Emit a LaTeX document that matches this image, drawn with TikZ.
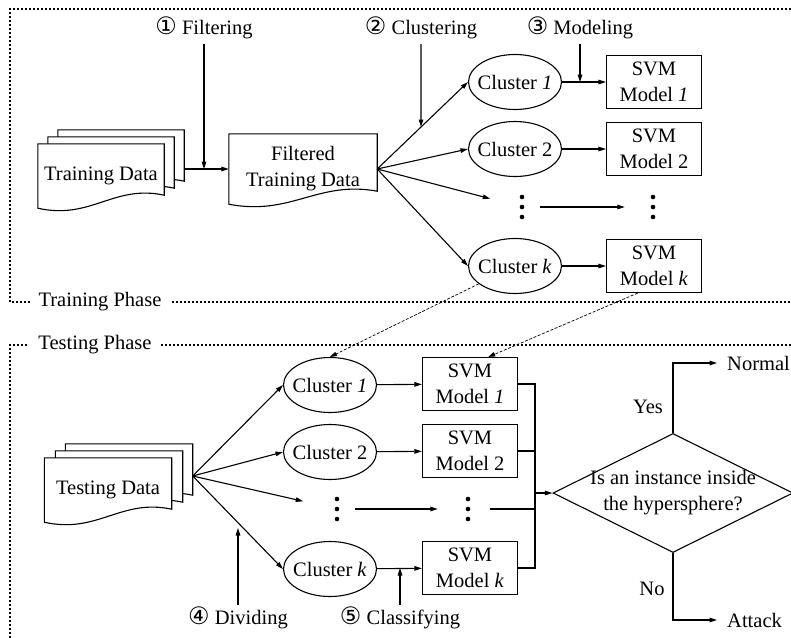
\documentclass[tikz,border=0pt]{standalone}
\usepackage{fontspec}
\setmainfont{Liberation Serif}
\newfontfamily\circfont{DejaVu Sans}
\usetikzlibrary{shapes.geometric,arrows.meta,calc,backgrounds}

\newcommand\mainfnt{\fontsize{20.5}{26}\selectfont}
\newcommand\circnum[1]{\raisebox{-0.5pt}{\circfont\fontsize{24}{24}\selectfont #1}}
\newcommand\zw[1]{\makebox[0pt]{#1}}

% document shape with a wavy lower edge, drawn round a named node
\newcommand\docoutline[1]{%
  \filldraw[shp, fill=white] (#1.south west) -- (#1.north west) -- (#1.north east)
    -- ($(#1.south east)+(0,-13)$)
    .. controls ($(#1.south west)!0.6!(#1.south east)+(0,-24)$)
       and ($(#1.south west)!0.42!(#1.south east)+(0,12)$) .. (#1.south west) -- cycle;}

\begin{document}
\begin{tikzpicture}[x=1pt,y=-1pt,
  every node/.append style={font=\mainfnt},
  shp/.style={line width=1.1pt},
  arr/.style={shp,-{Triangle[length=7.5pt,width=4.5pt]}},
  dconn/.style={line width=0.7pt,dash pattern=on 3pt off 1.6pt,-{Triangle[length=7pt,width=4.5pt]}},
  frame/.style={line width=2.1pt,dash pattern=on 2pt off 2pt},
  phase/.style={fill=white,inner xsep=9pt,inner ysep=3pt},
  lab/.style={inner sep=2pt},
  doc/.style={rectangle,inner sep=0pt,minimum width=126pt,minimum height=64pt},
  cl/.style={ellipse,draw,shp,inner sep=0pt,minimum width=93pt,minimum height=55pt},
  svm/.style={rectangle,draw,shp,inner sep=0pt,minimum width=95pt,minimum height=53pt,align=center},
  dotcol/.style={inner sep=0pt,minimum width=36pt,minimum height=26pt}]
\useasboundingbox (0,0) rectangle (791,637);

% ---------- phase frames ----------
\draw[frame] (795,9) -- (10,9) -- (10,302) -- (795,302);
\node[phase] (trainlab) at (100,302) {Training Phase};
\draw[frame] (795,345) -- (10,345) -- (10,642);
\node[phase] (testlab) at (95,345) {Testing Phase};

% ---------- training phase ----------
\node[doc] (trback) at (121,162) {};
\node[doc] (trmid) at (111,169) {};
\node[doc] (trfront) at (101,176) {Training Data};
\node[doc,minimum width=148pt,minimum height=70pt,align=center] (filt) at (303,169)
  {Filtered\\Training Data};

\node[cl] (c1) at (515,82) {\zw{Cluster \textit{1}}};
\node[cl] (c2) at (515,149) {\zw{Cluster 2}};
\node[dotcol] (d1) at (522,207) {};
\node[cl] (ck) at (515,266) {\zw{Cluster \textit{k}}};

\node[svm] (s1) at (654,82) {SVM\\Model \textit{1}};
\node[svm] (s2) at (654,149) {SVM\\Model 2};
\node[dotcol] (d2) at (653,207) {};
\node[svm] (sk) at (654,266) {SVM\\Model \textit{k}};

\node[lab] (flab) at (204,28) {\circnum{①} Filtering};
\node[lab] (clab) at (421,28) {\circnum{②} Clustering};
\node[lab] (mlab) at (580,28) {\circnum{③} Modeling};

% ---------- testing phase ----------
\node[doc,minimum width=127pt] (teback) at (129,476) {};
\node[doc,minimum width=127pt] (temid) at (119,483) {};
\node[doc,minimum width=127pt] (tefront) at (108,490) {Testing Data};

\node[cl] (tc1) at (330,385) {\zw{Cluster \textit{1}}};
\node[cl] (tc2) at (330,452) {\zw{Cluster 2}};
\node[dotcol] (td1) at (337,509) {};
\node[cl] (tck) at (330,569) {\zw{Cluster \textit{k}}};

\node[svm] (ts1) at (470,384) {SVM\\Model \textit{1}};
\node[svm] (ts2) at (470,451) {SVM\\Model 2};
\node[dotcol,minimum width=44pt] (td2) at (468,509) {};
\node[svm] (tsk) at (470,568) {SVM\\Model \textit{k}};

\node[diamond,draw,shp,inner sep=0pt,minimum width=240pt,minimum height=119pt] (dec) at (673,493) {};
\node[align=center,inner sep=0pt] (dectext) at (dec) {Is an instance inside\\the hypersphere?};

\node[anchor=west,inner sep=0pt] (normal) at (727,363) {Normal};
\node[anchor=west,inner sep=0pt] (attack) at (727,620) {Attack};
\node[inner sep=0pt] (yes) at (648,407) {Yes};
\node[inner sep=0pt] (no) at (652,589) {No};

\node[lab] (dlab) at (238,618) {\circnum{④} Dividing};
\node[lab] (slab) at (400,618) {\circnum{⑤} Classifying};

% document outlines behind their texts
\begin{pgfonlayer}{background}
  \docoutline{trback}\docoutline{trmid}\docoutline{trfront}
  \docoutline{filt}
  \docoutline{teback}\docoutline{temid}\docoutline{tefront}
\end{pgfonlayer}

% vertical ellipsis marks
\foreach \n in {d1,d2,td1,td2}
  \foreach \dy in {-10,0,10}
    \fill ($(\n)+(0,\dy)$) circle (2.3pt);

% ---------- training connectors ----------
\draw[arr] (trback.east |- filt.west) -- (filt.west);
\draw[arr,shorten <=3pt] (flab.south) -- (flab.south |- filt.west);

\draw[arr] (filt.east) -- (c1.west);
\draw[arr] (filt.east) -- (c2.west);
\draw[arr,shorten >=14pt] (filt.east) -- (d1);
\draw[arr] (filt.east) -- (ck.west);
\coordinate (cfoot) at (clab.south |- c1.west);
\draw[arr,shorten <=3pt] (clab.south) -- (intersection of clab.south--cfoot and filt.east--c1.west);

\draw[arr] (c1) -- (s1);
\draw[arr] (c2) -- (s2);
\draw[arr,shorten >=10pt] (d1) -- (d2);
\draw[arr] (ck) -- (sk);
\draw[arr,shorten <=3pt] (mlab.south) -- (mlab.south |- s1.west);

% models handed over to the testing phase
\draw[dconn] (ck) -- (tc1.north);
\draw[dconn] (sk.239) -- (ts1.56);

% ---------- testing connectors ----------
\draw[arr] (teback.east) -- (tc1.west);
\draw[arr] (teback.east) -- (tc2.west);
\draw[arr,shorten >=16pt] (teback.east) -- (td1);
\draw[arr] (teback.east) -- (tck.west);
\coordinate (divtip) at (dlab.north |- 0,528);
\draw[arr] (dlab.north) -- (divtip);

\draw[arr] (tc1) -- (ts1);
\draw[arr] (tc2) -- (ts2);
\draw[arr,shorten >=8pt] (td1) -- (td2);
\draw[arr] (tck) -- (tsk);
\draw[arr] (slab.north) -- (slab.north |- tsk.west);

\coordinate (merge) at (535,0 |- dec.west);
\draw[shp] (ts1.east) -| (merge);
\draw[shp] (ts2.east) -| (merge);
\draw[shp] (td2.east) -| (merge);
\draw[shp] (tsk.east) -| (merge);
\draw[arr] (merge) -- (dec.west);

\draw[arr,shorten >=10pt] (dec.north) |- (normal.west);
\draw[arr,shorten >=10pt] (dec.south) |- (attack.west);
\end{tikzpicture}
\end{document}
